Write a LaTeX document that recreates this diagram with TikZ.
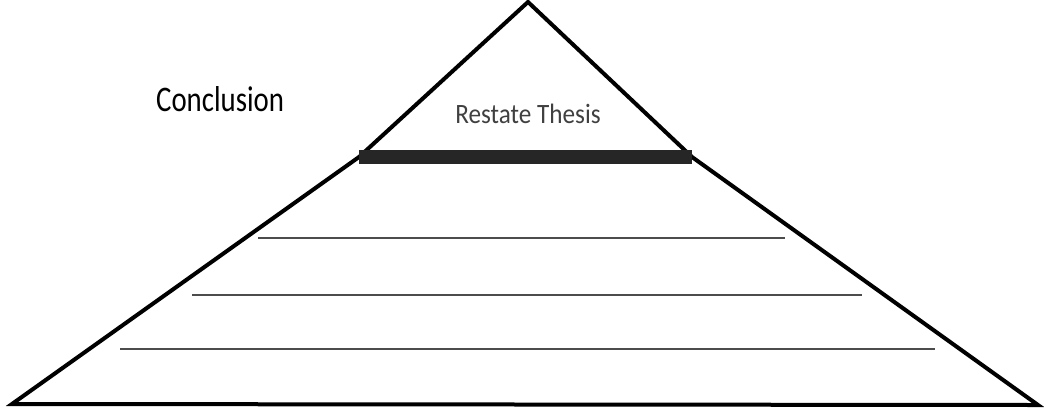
\documentclass[tikz,border=0pt]{standalone}
\usepackage{fontspec}
\setmainfont{Carlito}
\begin{document}
\begin{tikzpicture}[x=0.75pt, y=-0.75pt]
    \useasboundingbox (0,0) rectangle (1044,411);
    % 1. Các đỉnh của kim tự tháp
    \coordinate (apex) at (528,2);
    \coordinate (barL) at (359,157);
    \coordinate (barR) at (692,157);
    \coordinate (baseL) at (12,404);
    \coordinate (baseR) at (1038,405);

    % 2. Khung kim tự tháp
    \draw[line width=3pt, line join=miter] (apex) -- (barL) -- (baseL) -- (baseR) -- (barR) -- cycle;

    % 3. Thanh đậm ngăn đỉnh
    \draw[line width=10pt, black!85] (barL) -- (barR);

    % 4. Các dòng kẻ để viết
    \draw[line width=1pt, black!70] (258,238) -- (785,238);
    \draw[line width=1pt, black!70] (192,295) -- (862,295);
    \draw[line width=1pt, black!70] (120,349) -- (935,349);

    % 5. Chữ
    \node[anchor=base west, inner sep=0pt, xscale=0.8, font=\fontsize{27}{30}\selectfont] (conclusion) at (156,111) {Conclusion};
    \node[anchor=base, inner sep=0pt, xscale=0.9, font=\fontsize{21}{24}\selectfont, black!75] (thesis) at (528,123) {Restate Thesis};
\end{tikzpicture}
\end{document}
